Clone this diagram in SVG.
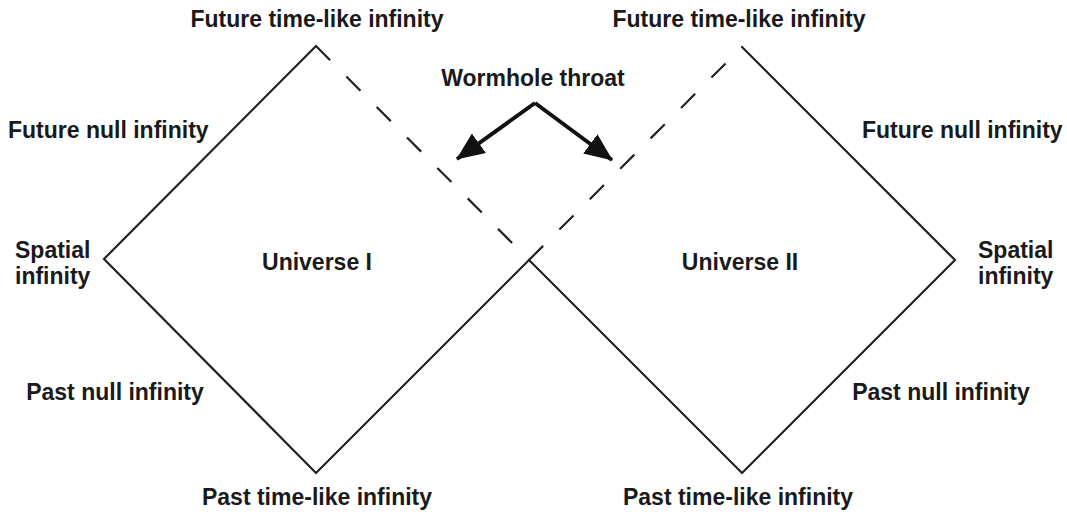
<svg xmlns="http://www.w3.org/2000/svg" width="1067" height="518" viewBox="0 0 1067 518">
<style>
text{font-family:"Liberation Sans",Arial,sans-serif;font-weight:bold;font-size:23px;fill:#1a1a1a}
.edge{fill:none;stroke:#222;stroke-width:2.2;stroke-linecap:round;stroke-linejoin:miter}
.dash{fill:none;stroke:#222;stroke-width:2.2;stroke-dasharray:20 23}
.arrow{fill:none;stroke:#111;stroke-width:4;stroke-linejoin:miter}
</style>
<defs>
<marker id="head" viewBox="0 0 28 24" refX="27" refY="12" markerWidth="28" markerHeight="24" markerUnits="userSpaceOnUse" orient="auto">
<path d="M0,0 L28,12 L0,24 z" fill="#111"/>
</marker>
</defs>
<g id="universe1">
<path class="edge" d="M529,260 L316,473 L104,259 L316,46"/>
<text x="317" y="270" text-anchor="middle">Universe I</text>
</g>
<g id="universe2">
<path class="edge" d="M742,47 L955,260 L742,473 L529,260"/>
<text x="740" y="270" text-anchor="middle">Universe II</text>
</g>
<g id="connectors">
<path class="dash" d="M316,46 L529,260"/>
<path class="dash" d="M529,260 L742,47"/>
<path class="arrow" d="M535,103 L457,159" marker-end="url(#head)"/>
<path class="arrow" d="M535,103 L612,160" marker-end="url(#head)"/>
</g>
<g id="labels">
<text x="317" y="27" text-anchor="middle">Future time-like infinity</text>
<text x="739" y="27" text-anchor="middle">Future time-like infinity</text>
<text x="533" y="86" text-anchor="middle">Wormhole throat</text>
<text x="8" y="138">Future null infinity</text>
<text x="862" y="138">Future null infinity</text>
<text x="15" y="258">Spatial</text>
<text x="15" y="284">infinity</text>
<text x="978" y="258">Spatial</text>
<text x="978" y="284">infinity</text>
<text x="115" y="400" text-anchor="middle">Past null infinity</text>
<text x="941" y="400" text-anchor="middle">Past null infinity</text>
<text x="317" y="505" text-anchor="middle">Past time-like infinity</text>
<text x="738" y="505" text-anchor="middle">Past time-like infinity</text>
</g>
</svg>
